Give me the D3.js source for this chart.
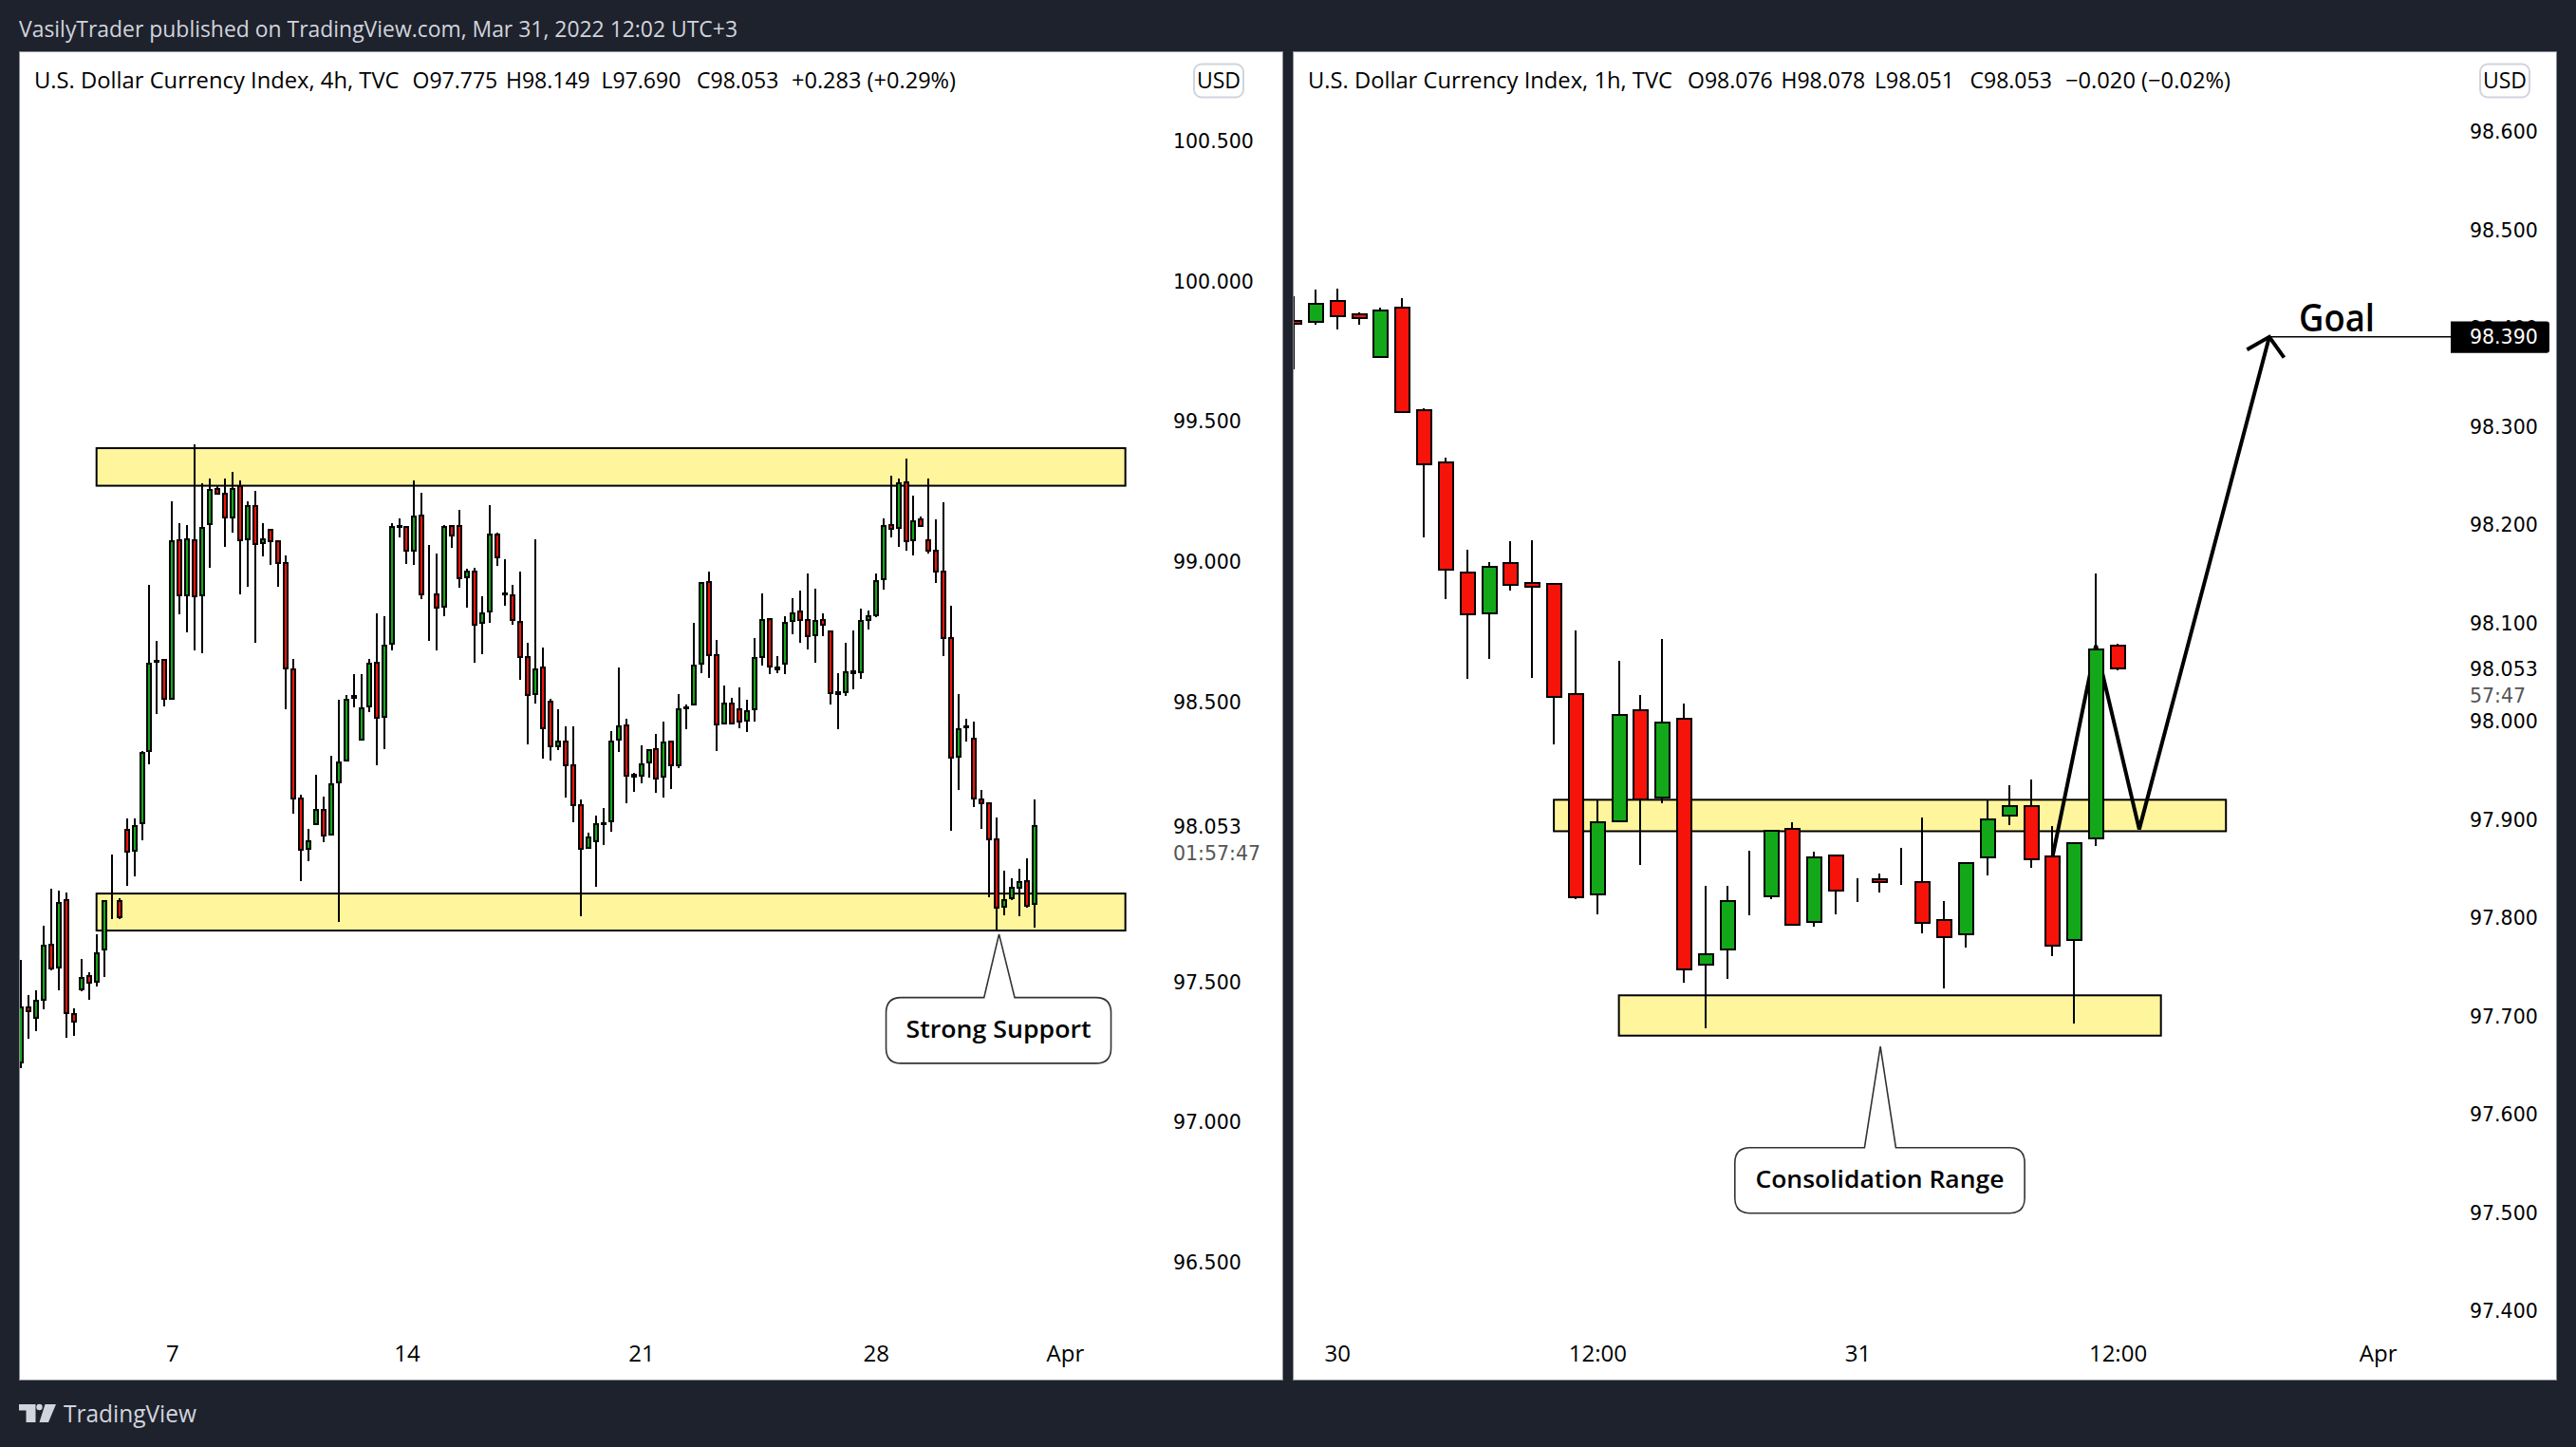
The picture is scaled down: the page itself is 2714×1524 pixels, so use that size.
<!DOCTYPE html>
<html><head><meta charset="utf-8">
<script src="https://cdnjs.cloudflare.com/ajax/libs/d3/7.8.5/d3.min.js"></script>
<style>
html,body{margin:0;padding:0;background:#1e222d;overflow:hidden}
svg{display:block}
.ui{font-family:"Open Sans",sans-serif}
.num{font-family:"DejaVu Sans",sans-serif}
</style></head><body><div id="chart"></div>
<script>
// ---- 4h panel ----
const open4h=[97.211,97.406,97.369,97.434,97.630,97.549,97.787,97.383,97.471,97.516,
97.497,97.611,97.784,97.784,98.040,97.966,98.062,98.319,98.642,98.647,
98.507,99.073,98.875,99.073,98.875,99.130,99.256,99.239,99.154,99.264,
99.076,99.196,99.063,99.110,99.070,98.992,98.612,98.152,97.973,98.060,
98.112,98.023,98.208,98.287,98.518,98.361,98.480,98.636,98.443,98.703,
99.124,99.121,99.035,99.161,98.881,98.879,98.834,99.122,99.122,98.939,
98.960,98.777,98.817,99.094,98.883,98.877,98.782,98.656,98.523,98.620,
98.498,98.336,98.356,98.270,98.129,97.976,97.998,98.064,98.069,98.361,
98.413,98.235,98.234,98.279,98.328,98.229,98.353,98.271,98.477,98.488,
98.632,98.925,98.663,98.418,98.490,98.470,98.428,98.470,98.655,98.792,
98.620,98.632,98.783,98.820,98.789,98.733,98.789,98.746,98.529,98.531,
98.606,98.601,98.789,98.804,98.935,99.126,99.117,99.280,99.071,99.148,
99.072,99.035,98.961,98.724,98.300,98.407,98.365,98.148,98.135,98.006,
97.764,97.794,97.832,97.856,97.775];
const high4h=[97.574,97.449,97.468,97.697,97.829,97.821,97.816,97.401,97.578,97.530,
97.667,97.790,97.950,97.794,98.079,98.079,98.320,98.914,98.712,98.647,
99.210,99.132,99.126,99.413,99.275,99.292,99.270,99.292,99.318,99.287,
99.213,99.250,99.132,99.112,99.070,99.017,98.648,98.166,98.042,98.235,
98.157,98.303,98.502,98.519,98.594,98.594,98.648,98.810,98.801,99.135,
99.152,99.121,99.287,99.241,99.054,99.024,99.128,99.122,99.180,98.970,
98.973,98.871,99.197,99.098,99.004,98.912,98.960,98.706,99.075,98.691,
98.506,98.471,98.407,98.407,98.147,98.028,98.089,98.116,98.391,98.620,
98.435,98.244,98.340,98.326,98.380,98.424,98.357,98.525,98.485,98.779,
98.925,98.962,98.716,98.553,98.509,98.546,98.502,98.725,98.882,98.796,
98.658,98.800,98.865,98.892,98.953,98.899,98.813,98.750,98.597,98.706,
98.750,98.830,98.823,98.953,99.151,99.304,99.293,99.365,99.231,99.158,
99.292,99.146,99.207,98.840,98.525,98.437,98.427,98.181,98.135,98.082,
97.894,97.866,97.899,97.937,98.149];
const low4h=[97.188,97.294,97.320,97.398,97.538,97.468,97.297,97.303,97.465,97.432,
97.479,97.513,97.720,97.720,97.838,97.875,98.001,98.273,98.452,98.479,
98.505,98.808,98.743,98.678,98.668,98.973,99.238,99.049,99.098,98.878,
98.905,98.707,99.014,98.986,98.905,98.468,98.096,97.855,97.927,98.060,
97.994,98.023,97.712,98.287,98.476,98.361,98.459,98.269,98.326,98.678,
99.081,98.989,98.986,98.861,98.712,98.681,98.803,99.045,98.904,98.833,
98.637,98.667,98.779,98.982,98.840,98.772,98.576,98.345,98.490,98.295,
98.288,98.324,98.156,98.068,97.730,97.976,97.837,97.986,98.034,98.318,
98.133,98.175,98.206,98.227,98.173,98.156,98.186,98.261,98.400,98.484,
98.598,98.582,98.322,98.418,98.418,98.402,98.389,98.425,98.625,98.595,
98.598,98.595,98.737,98.708,98.683,98.636,98.732,98.487,98.400,98.516,
98.542,98.579,98.755,98.798,98.895,99.084,99.050,99.035,99.019,99.124,
99.024,98.921,98.658,98.037,98.183,98.356,98.122,98.041,97.799,97.680,
97.736,97.790,97.730,97.761,97.690];
const close4h=[97.406,97.393,97.431,97.627,97.546,97.779,97.387,97.356,97.512,97.494,
97.600,97.784,97.784,97.728,97.962,98.054,98.312,98.633,98.639,98.507,
99.070,98.877,99.076,98.874,99.116,99.253,99.238,99.154,99.256,99.073,
99.196,99.060,99.076,99.070,98.992,98.614,98.152,97.969,97.997,98.112,
98.020,98.202,98.281,98.505,98.510,98.474,98.633,98.440,98.696,99.121,
99.121,99.035,99.158,98.880,98.881,98.833,99.119,99.089,98.936,98.960,
98.770,98.812,99.094,99.010,98.878,98.787,98.655,98.520,98.613,98.401,
98.337,98.356,98.269,98.126,97.972,98.013,98.060,98.059,98.356,98.409,
98.231,98.230,98.274,98.324,98.221,98.352,98.269,98.470,98.472,98.627,
98.921,98.661,98.415,98.490,98.418,98.425,98.463,98.654,98.789,98.623,
98.612,98.778,98.812,98.789,98.729,98.785,98.770,98.527,98.525,98.602,
98.598,98.785,98.803,98.927,99.123,99.114,99.276,99.070,99.141,99.124,
99.035,98.960,98.724,98.297,98.400,98.404,98.152,98.135,98.006,97.762,
97.789,97.832,97.854,97.767,98.053];
const priceTicks4h=[100.5,100,99.5,99,98.5,97.5,97,96.5];
const timeBars4h=[20,51,82,113,138];
const timeLabels4h=["7","14","21","28","Apr"];
const zones4h=[{from:10,to:146,top:99.401,bottom:99.267},{from:10,to:146,top:97.812,bottom:97.680}];
const legendName4h="U.S. Dollar Currency Index, 4h, TVC";
const legendValues4h=["O97.775","H98.149","L97.690","C98.053","+0.283 (+0.29%)"];

// ---- 1h panel ----
const open1h=[98.406,98.405,98.427,98.413,98.370,98.420,98.315,98.262,98.150,98.109,
98.160,98.140,98.139,98.027,97.823,97.897,98.010,97.921,98.001,97.751,
97.767,97.818,97.821,97.889,97.795,97.862,97.831,97.838,97.832,97.835,
97.797,97.782,97.860,97.903,97.913,97.861,97.776,97.880,98.076];
const high1h=[98.431,98.438,98.439,98.415,98.420,98.429,98.317,98.267,98.173,98.161,
98.182,98.183,98.139,98.091,97.918,98.060,98.026,98.083,98.017,97.831,
97.831,97.867,97.887,97.896,97.866,97.862,97.839,97.844,97.870,97.901,
97.816,97.855,97.918,97.934,97.940,97.892,97.875,98.149,98.078];
const low1h=[98.357,98.402,98.398,98.402,98.370,98.314,98.186,98.123,98.042,98.062,
98.132,98.043,97.975,97.818,97.802,97.897,97.853,97.915,97.733,97.686,
97.737,97.801,97.818,97.792,97.790,97.802,97.815,97.825,97.832,97.783,
97.727,97.769,97.842,97.893,97.850,97.760,97.691,97.872,98.051];
const close1h=[98.403,98.424,98.411,98.409,98.417,98.314,98.260,98.153,98.108,98.156,
98.138,98.136,98.024,97.820,97.896,98.005,97.919,97.998,97.746,97.762,
97.816,97.818,97.887,97.792,97.860,97.827,97.831,97.835,97.832,97.794,
97.779,97.855,97.899,97.913,97.858,97.771,97.875,98.072,98.053];
const priceTicks1h=[98.6,98.5,98.4,98.3,98.2,98.1,98.0,97.9,97.8,97.7,97.6,97.5,97.4];
const timeBars1h=[2,14,26,38,50];
const timeLabels1h=["30","12:00","31","12:00","Apr"];
const zones1h=[{from:12,to:43,top:97.919,bottom:97.887},{from:15,to:40,top:97.720,bottom:97.679}];
const projectionBars=[35,37,39,45];
const projectionPrices=[97.861,98.076,97.889,98.390];
const arrowBars=[43.97,45,45.68];
const arrowPrices=[98.377,98.390,98.369];
const goalPrice=98.390;
const legendName1h="U.S. Dollar Currency Index, 1h, TVC";
const legendValues1h=["O98.076","H98.078","L98.051","C98.053","\u22120.020 (\u22120.02%)"];

const W=2714,H=1524;
const BG="#1e222d",UP="#13a819",DOWN="#f5130a",ZONE="#fff59d",INK="#000";
const UIFONT='"Open Sans",sans-serif';

const svg=d3.select("#chart").append("svg").attr("width",W).attr("height",H).attr("viewBox",`0 0 ${W} ${H}`);
svg.append("rect").attr("width",W).attr("height",H).attr("fill",BG);

svg.append("text").attr("class","ui").attr("x",20).attr("y",39).attr("fill","#d1d4dc")
  .attr("font-size",23).attr("textLength",757).attr("lengthAdjust","spacingAndGlyphs")
  .text("VasilyTrader published on TradingView.com, Mar 31, 2022 12:02 UTC+3");

function panel(cfg){
  const g=svg.append("g");
  g.append("rect").attr("x",cfg.left+.5).attr("y",54.5).attr("width",cfg.right-cfg.left-1).attr("height",1399)
    .attr("fill","#fff").attr("stroke","#8a8d96").attr("stroke-width",1);
  const clipId="clip"+cfg.id;
  svg.append("clipPath").attr("id",clipId).append("rect").attr("x",cfg.left+1).attr("y",55).attr("width",cfg.right-cfg.left-2).attr("height",1398);
  const x=d3.scaleLinear().domain(cfg.xDomain).range(cfg.xRange);
  const y=d3.scaleLinear().domain(cfg.yDomain).range(cfg.yRange);
  const plot=g.append("g").attr("clip-path",`url(#${clipId})`);

  plot.selectAll("rect.zone").data(cfg.zones).join("rect").attr("class","zone")
    .attr("x",d=>x(d.from)).attr("width",d=>x(d.to)-x(d.from))
    .attr("y",d=>y(d.top)).attr("height",d=>y(d.bottom)-y(d.top))
    .attr("fill",ZONE).attr("stroke",INK).attr("stroke-width",2);

  cfg.under&&cfg.under(plot,x,y);

  const idx=d3.range(cfg.o.length);
  const c=plot.append("g").attr("shape-rendering","crispEdges");
  c.selectAll("line").data(idx).join("line")
    .attr("x1",i=>Math.round(x(i))).attr("x2",i=>Math.round(x(i)))
    .attr("y1",i=>y(cfg.h[i])).attr("y2",i=>y(cfg.l[i]))
    .attr("stroke",INK).attr("stroke-width",2);
  c.selectAll("rect").data(idx).join("rect")
    .attr("x",i=>Math.round(x(i))-cfg.bw/2).attr("width",cfg.bw)
    .attr("y",i=>y(Math.max(cfg.o[i],cfg.c[i])))
    .attr("height",i=>Math.max(0,Math.abs(y(cfg.o[i])-y(cfg.c[i]))))
    .attr("fill",i=>cfg.c[i]>=cfg.o[i]?UP:DOWN)
    .attr("stroke",INK).attr("stroke-width",2);

  cfg.over&&cfg.over(plot,x,y);

  const ya=g.append("g").attr("transform",`translate(${cfg.axisX},1.5)`).attr("class","num")
    .call(d3.axisRight(y).tickValues(cfg.priceTicks).tickSize(0).tickPadding(0).tickFormat(d=>d.toFixed(3)));
  ya.select(".domain").remove();
  ya.selectAll("text").attr("font-family",'"DejaVu Sans",sans-serif').attr("font-size",20.5).attr("fill","#000");

  const tl=new Map(cfg.timeBars.map((b,i)=>[b,cfg.timeLabels[i]]));
  const xa=g.append("g").attr("transform","translate(0,1417)")
    .call(d3.axisBottom(x).tickValues(cfg.timeBars).tickSize(0).tickPadding(0).tickFormat(d=>tl.get(d)));
  xa.select(".domain").remove();
  xa.selectAll("text").attr("font-family",UIFONT).attr("font-size",24).attr("fill","#000");

  // legend: name, then O/H/L/C/change at their own places
  g.append("text").attr("class","ui").attr("x",cfg.titleX).attr("y",93).attr("fill","#000")
    .attr("font-size",23).attr("textLength",cfg.nameW).attr("lengthAdjust","spacingAndGlyphs").text(cfg.name);
  cfg.values.forEach((v,i)=>{
    const t=g.append("text").attr("class","ui").attr("x",cfg.valueX[i]).attr("y",93).attr("fill","#000")
      .attr("font-size",23).text(v);
    if(i===4) t.attr("textLength",cfg.changeW).attr("lengthAdjust","spacingAndGlyphs");
  });

  g.append("rect").attr("x",cfg.usdX+1).attr("y",67.5).attr("width",52).attr("height",35).attr("rx",8)
    .attr("fill","#fff").attr("stroke","#d1d4dc").attr("stroke-width",2);
  g.append("text").attr("class","ui").attr("x",cfg.usdX+27).attr("y",93).attr("text-anchor","middle")
    .attr("font-size",23).attr("fill","#000").text("USD");

  g.append("text").attr("class","num").attr("x",cfg.axisX).attr("y",y(98.053)+8).attr("font-size",20.5).attr("fill","#000").text("98.053");
  g.append("text").attr("class","num").attr("x",cfg.axisX).attr("y",y(98.053)+cfg.cdGap+8).attr("font-size",20.5).attr("fill","#555").text(cfg.countdown);

  return {g,x,y};
}

function callout(sel,tx,ty,box,label,len){
  const r=16;
  const {l,rr,t,b,bl,br}=box;
  const d=`M${tx},${ty}L${tx+br},${ty+t}H${tx+rr-r}Q${tx+rr},${ty+t} ${tx+rr},${ty+t+r}V${ty+b-r}Q${tx+rr},${ty+b} ${tx+rr-r},${ty+b}H${tx+l+r}Q${tx+l},${ty+b} ${tx+l},${ty+b-r}V${ty+t+r}Q${tx+l},${ty+t} ${tx+l+r},${ty+t}H${tx+bl}Z`;
  sel.append("path").attr("d",d).attr("fill","#fff").attr("stroke","#333").attr("stroke-width",1.6);
  sel.append("text").attr("class","ui").attr("x",tx+(l+rr)/2).attr("y",ty+(t+b)/2+7.5).attr("text-anchor","middle")
    .attr("font-size",26).attr("font-weight",600).attr("fill","#000")
    .attr("textLength",len).attr("lengthAdjust","spacingAndGlyphs").text(label);
}

panel({id:"L",left:20,right:1352,xDomain:[0,134],xRange:[22,1090],yDomain:[100.5,96.5],yRange:[147.6,1328.4],
  o:open4h,h:high4h,l:low4h,c:close4h,bw:4,zones:zones4h,priceTicks:priceTicks4h,axisX:1236,
  timeBars:timeBars4h,timeLabels:timeLabels4h,name:legendName4h,values:legendValues4h,titleX:36,nameW:384.6,
  valueX:[434.5,533,633.5,734,834],changeW:173,usdX:1257,cdGap:28.5,countdown:"01:57:47",
  over:(p,x,y)=>callout(p,x(129.3),y(97.667),{l:-119,rr:118,t:66.7,b:136,bl:-15.8,br:16.5},"Strong Support",195)});

const right=panel({id:"R",left:1362,right:2694,xDomain:[0,38],xRange:[1363,2231],yDomain:[98.6,97.4],yRange:[137.5,1379.5],
  o:open1h,h:high1h,l:low1h,c:close1h,bw:15,zones:zones1h,priceTicks:priceTicks1h,axisX:2602,
  timeBars:timeBars1h,timeLabels:timeLabels1h,name:legendName1h,values:legendValues1h,titleX:1378,nameW:384,
  valueX:[1778,1876.5,1975,2075.5,2176],changeW:174,usdX:2612,cdGap:28.7,countdown:"57:47",
  under:(p,x,y)=>{
    const line=d3.line().x((d,i)=>x(projectionBars[i])).y((d,i)=>y(projectionPrices[i]));
    p.append("path").attr("d",line(projectionBars)).attr("fill","none").attr("stroke",INK).attr("stroke-width",4).attr("stroke-linejoin","miter");
  },
  over:(p,x,y)=>{
    const head=d3.line().x((d,i)=>x(arrowBars[i])).y((d,i)=>y(arrowPrices[i]));
    p.append("path").attr("d",head(arrowBars)).attr("fill","none").attr("stroke",INK).attr("stroke-width",4);
    p.append("line").attr("x1",x(45)).attr("x2",2582).attr("y1",y(goalPrice)).attr("y2",y(goalPrice)).attr("stroke",INK).attr("stroke-width",1.5);
    p.append("text").attr("class","ui").attr("x",2422).attr("y",348.5).attr("font-size",40).attr("font-weight",600)
      .attr("fill","#000").attr("textLength",80).attr("lengthAdjust","spacingAndGlyphs").text("Goal");
    callout(p,x(27.06),y(97.668),{l:-153.3,rr:152,t:106.6,b:175.6,bl:-16.7,br:16.3},"Consolidation Range",262);
  }});

// price tag on the axis, above the 98.400 tick it partly covers
svg.append("path").attr("d","M2582,338.5H2683a3,3 0 0 1 3,3V368.7a3,3 0 0 1 -3,3H2582Z").attr("fill","#000");
svg.append("text").attr("class","num").attr("x",2602).attr("y",right.y(goalPrice)+7.3).attr("font-size",20.5).attr("fill","#fff").text("98.390");

// footer logo
const logo=svg.append("g").attr("fill","#d1d4dc");
logo.append("path").attr("d","M20,1479H37.5V1498H27.5V1485.5H20Z");
logo.append("circle").attr("cx",41.5).attr("cy",1482).attr("r",3.2);
logo.append("path").attr("d","M47.5,1479H59L51,1498H41.5Z");
logo.append("text").attr("class","ui").attr("x",67).attr("y",1498).attr("font-size",26)
  .attr("textLength",140).attr("lengthAdjust","spacingAndGlyphs").text("TradingView");
</script></body></html>
